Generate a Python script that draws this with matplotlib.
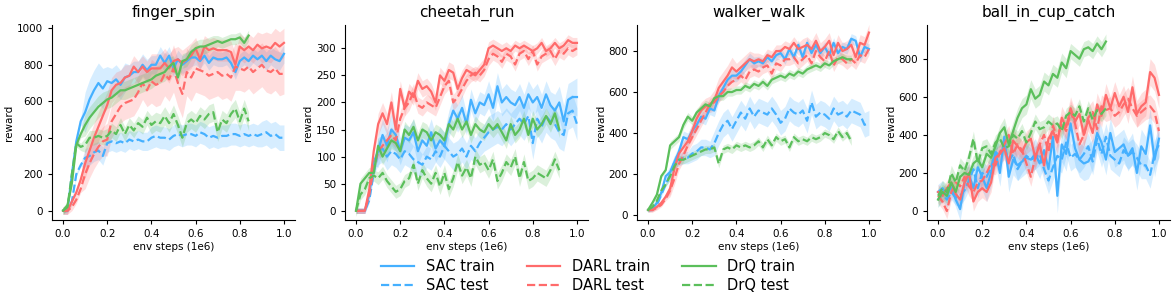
import matplotlib

matplotlib.use("Agg")
import matplotlib.pyplot as plt
import numpy as np

# ---- data (eval every 0.02e6 env steps) ----
TASKS = ["finger_spin", "cheetah_run", "walker_walk", "ball_in_cup_catch"]
METHODS = ["SAC", "DARL", "DrQ"]
COLORS = {"SAC": "#45b0ff", "DARL": "#ff6b6b", "DrQ": "#5bbf5b"}

FS_SAC_TRAIN = [0, 0, 200, 380, 490, 540, 610, 660, 700, 670, 710, 700, 720, 690, 730, 740, 760, 760, 800, 770,
                800, 800, 850, 810, 850, 780, 830, 800, 820, 840, 840, 820, 850, 810, 840, 830, 830, 840, 810, 760,
                820, 840, 820, 850, 830, 850, 820, 850, 830, 820, 860]
FS_SAC_TEST = [0, 0, 50, 200, 250, 290, 300, 320, 330, 300, 370, 380, 370, 380, 370, 390, 380, 390, 380, 380,
               400, 410, 400, 400, 390, 410, 420, 410, 420, 420, 410, 430, 420, 400, 410, 400, 410, 410, 420, 420,
               410, 420, 410, 420, 410, 420, 430, 410, 420, 400, 400]
FS_DARL_TRAIN = [0, 0, 50, 100, 170, 260, 330, 400, 460, 520, 580, 660, 690, 700, 730, 740, 790, 760, 790, 760,
                 780, 780, 780, 810, 780, 820, 830, 810, 830, 850, 890, 830, 900, 880, 890, 880, 880, 880, 870, 800,
                 900, 880, 900, 880, 910, 890, 900, 890, 920, 900, 920]
FS_DARL_TEST = [0, 0, 20, 60, 120, 200, 260, 310, 350, 380, 390, 490, 530, 570, 590, 600, 610, 650, 700, 660,
                710, 690, 700, 750, 720, 780, 700, 640, 760, 730, 780, 770, 760, 740, 750, 760, 740, 750, 730, 790,
                780, 770, 790, 760, 780, 800, 770, 760, 780, 750, 750]
FS_DRQ_TRAIN = [0, 30, 150, 360, 420, 470, 510, 540, 570, 590, 610, 620, 640, 660, 660, 670, 680, 690, 700, 710,
                720, 740, 750, 760, 790, 810, 730, 820, 830, 870, 890, 900, 900, 910, 920, 930, 920, 930, 940, 940,
                950, 920, 960]
FS_DRQ_TEST = [0, 20, 200, 370, 350, 360, 400, 400, 410, 400, 410, 440, 420, 470, 420, 470, 440, 480, 460, 510,
               470, 490, 480, 520, 480, 530, 470, 400, 480, 500, 480, 520, 500, 530, 540, 430, 500, 480, 530, 560,
               490, 560, 490]

CR_SAC_TRAIN = [0, 0, 0, 30, 90, 110, 140, 120, 150, 140, 110, 135, 130, 145, 110, 130, 120, 145, 115, 130,
                120, 160, 185, 170, 190, 160, 205, 180, 200, 195, 215, 190, 230, 200, 210, 200, 195, 210, 190, 215,
                200, 210, 190, 215, 195, 185, 200, 165, 205, 210, 210]
CR_SAC_TEST = [0, 0, 0, 20, 70, 110, 115, 100, 110, 105, 95, 110, 105, 95, 90, 85, 100, 95, 110, 100,
               120, 110, 100, 105, 115, 100, 120, 110, 125, 135, 145, 150, 155, 150, 160, 150, 160, 170, 160, 175,
               125, 170, 155, 175, 165, 160, 145, 140, 180, 185, 160]
CR_DARL_TRAIN = [0, 0, 0, 40, 110, 160, 180, 160, 200, 150, 225, 190, 220, 210, 240, 225, 230, 220, 200, 250,
                 240, 260, 255, 225, 245, 260, 255, 250, 260, 270, 300, 305, 300, 295, 300, 295, 305, 300, 305, 300,
                 295, 300, 310, 295, 300, 310, 300, 305, 315, 310, 310]
CR_DARL_TEST = [0, 0, 0, 30, 80, 110, 120, 130, 140, 130, 170, 190, 200, 220, 195, 190, 200, 195, 190, 210,
                230, 240, 200, 210, 225, 240, 250, 255, 250, 260, 280, 290, 285, 275, 290, 285, 270, 290, 295, 280,
                295, 270, 285, 290, 295, 280, 295, 290, 300, 295, 300]
CR_DRQ_TRAIN = [0, 50, 60, 70, 70, 120, 100, 115, 130, 125, 110, 150, 140, 155, 130, 150, 145, 130, 145, 140,
                130, 160, 150, 170, 150, 165, 140, 160, 150, 145, 160, 150, 160, 145, 130, 160, 140, 150, 170, 140,
                170, 150, 160, 175, 160, 180, 150]
CR_DRQ_TEST = [0, 30, 40, 60, 65, 60, 70, 55, 45, 35, 40, 55, 60, 85, 50, 75, 60, 50, 70, 45,
               70, 40, 60, 90, 65, 80, 60, 100, 85, 90, 75, 95, 55, 70, 90, 80, 100, 60, 90, 55,
               60, 70, 65, 60, 75, 95, 75]

WW_SAC_TRAIN = [25, 30, 60, 110, 190, 210, 260, 310, 380, 370, 410, 440, 480, 470, 520, 510, 580, 620, 660, 680,
                680, 700, 730, 760, 740, 750, 740, 770, 750, 780, 790, 760, 810, 770, 830, 770, 840, 790, 830, 790,
                820, 780, 840, 790, 820, 810, 860, 850, 770, 820, 810]
WW_SAC_TEST = [25, 30, 50, 100, 150, 200, 260, 270, 280, 280, 300, 310, 330, 330, 320, 350, 400, 440, 460, 420,
               460, 500, 470, 520, 480, 510, 500, 490, 520, 490, 450, 470, 520, 500, 490, 510, 460, 550, 480, 500,
               490, 470, 520, 490, 500, 480, 510, 500, 490, 440, 450]
WW_DARL_TRAIN = [25, 25, 40, 60, 90, 130, 230, 300, 330, 360, 410, 470, 510, 530, 540, 560, 620, 650, 680, 720,
                 700, 720, 740, 760, 750, 760, 750, 780, 770, 800, 800, 820, 810, 840, 810, 820, 830, 810, 850, 800,
                 820, 850, 780, 840, 800, 810, 830, 770, 840, 830, 890]
WW_DARL_TEST = [25, 25, 35, 50, 80, 120, 180, 250, 290, 340, 380, 420, 460, 500, 540, 550, 580, 600, 630, 650,
                660, 680, 660, 700, 710, 700, 720, 730, 690, 740, 730, 760, 760, 770, 740, 760, 780, 740, 800, 770,
                750, 800, 730, 770, 760, 740, 760, 740, 780, 770, 810]
WW_DRQ_TRAIN = [25, 60, 100, 190, 220, 340, 360, 380, 440, 480, 460, 500, 520, 540, 530, 570, 580, 580, 600, 600,
                610, 610, 630, 620, 640, 630, 650, 630, 660, 670, 680, 670, 690, 680, 700, 690, 710, 720, 730, 720,
                740, 730, 750, 760, 770, 760, 760]
WW_DRQ_TEST = [25, 40, 70, 120, 150, 190, 240, 270, 270, 280, 290, 300, 310, 320, 320, 330, 250, 320, 330, 320,
               340, 330, 340, 330, 340, 360, 330, 370, 340, 380, 360, 370, 330, 380, 360, 370, 360, 380, 370, 380,
               400, 390, 370, 410, 380, 400, 360]

BC_SAC_TRAIN = [100, 120, 80, 130, 60, 10, 150, 190, 120, 230, 180, 120, 200, 310, 200, 390, 180, 270, 240, 260,
                280, 270, 300, 250, 320, 220, 390, 80, 350, 300, 460, 330, 270, 250, 260, 300, 410, 360, 270, 410,
                310, 330, 350, 290, 330, 200, 340, 300, 450, 270, 380]
BC_SAC_TEST = [60, 90, 60, 100, 70, 80, 110, 160, 220, 120, 200, 180, 230, 310, 290, 340, 260, 300, 220, 260,
               290, 270, 280, 300, 220, 160, 230, 290, 270, 360, 280, 300, 270, 300, 340, 260, 380, 300, 390, 290,
               270, 250, 320, 290, 310, 280, 240, 240, 190, 300, 350]
BC_DARL_TRAIN = [100, 80, 120, 150, 90, 60, 150, 200, 50, 100, 120, 100, 150, 280, 300, 330, 250, 370, 340, 310,
                 360, 380, 280, 350, 240, 380, 420, 360, 490, 440, 540, 470, 510, 400, 480, 410, 560, 500, 610, 540,
                 620, 550, 600, 520, 650, 510, 550, 570, 730, 700, 610]
BC_DARL_TEST = [80, 50, 0, 100, 150, 130, 180, 130, 100, 150, 160, 200, 250, 240, 310, 350, 400, 300, 350, 320,
                250, 180, 280, 350, 400, 310, 450, 380, 460, 420, 520, 460, 350, 400, 490, 520, 430, 550, 530, 540,
                500, 520, 560, 590, 540, 500, 520, 540, 550, 520, 420]
BC_DRQ_TRAIN = [60, 100, 80, 150, 100, 180, 200, 190, 250, 270, 230, 300, 280, 340, 410, 440, 350, 420, 490, 540,
                560, 640, 590, 610, 680, 660, 720, 700, 780, 750, 840, 820, 800, 850, 860, 840, 880, 850, 890]
BC_DRQ_TEST = [80, 120, 100, 200, 150, 240, 210, 280, 380, 250, 330, 340, 300, 360, 380, 330, 340, 400, 380, 420,
               360, 410, 470, 430, 440, 470, 450, 460, 420, 500, 520, 500, 550, 470, 540, 480, 530, 510, 540]

# band half-widths per 0.1e6 block (seed spread): (train, test)
SPREAD = {
    "finger_spin": {"SAC": ([20, 110, 80, 60, 50, 50, 40, 40, 40, 50, 50], [10, 50, 50, 50, 60, 60, 60, 60, 60, 70, 70]),
                    "DARL": ([20, 80, 70, 60, 80, 70, 60, 60, 70, 80, 80], [20, 80, 90, 90, 120, 130, 130, 130, 120, 120, 110]),
                    "DrQ": ([20, 60, 50, 50, 50, 40, 40, 30, 30, 30, 30], [20, 40, 40, 40, 50, 50, 50, 50, 50, 50, 50])},
    "cheetah_run": {"SAC": ([5, 30, 25, 25, 25, 20, 25, 25, 25, 30, 35], [5, 25, 25, 20, 25, 25, 30, 30, 30, 30, 30]),
                    "DARL": ([5, 20, 15, 15, 15, 12, 12, 10, 10, 10, 10], [5, 15, 15, 15, 15, 12, 12, 12, 12, 12, 12]),
                    "DrQ": ([10, 15, 15, 15, 15, 15, 15, 15, 15, 15, 15], [10, 12, 12, 15, 15, 15, 15, 15, 15, 15, 15])},
    "walker_walk": {"SAC": ([10, 30, 30, 30, 30, 25, 25, 25, 25, 25, 25], [10, 30, 40, 60, 60, 60, 60, 60, 60, 60, 60]),
                    "DARL": ([10, 30, 40, 50, 40, 30, 30, 40, 40, 40, 40], [10, 30, 30, 30, 30, 30, 30, 30, 30, 30, 30]),
                    "DrQ": ([10, 20, 20, 20, 20, 20, 20, 20, 20, 20, 20], [10, 20, 20, 20, 20, 20, 20, 20, 20, 20, 20])},
    "ball_in_cup_catch": {"SAC": ([40, 60, 70, 80, 80, 90, 90, 80, 80, 90, 90], [40, 50, 60, 60, 60, 70, 70, 70, 70, 70, 70]),
                          "DARL": ([40, 50, 50, 60, 60, 60, 60, 60, 60, 70, 70], [40, 50, 50, 50, 50, 50, 60, 60, 60, 60, 60]),
                          "DrQ": ([40, 40, 40, 50, 50, 50, 40, 40, 40, 40, 40], [40, 40, 40, 40, 40, 40, 40, 40, 40, 40, 40])},
}

CURVES = {
    "finger_spin": {"SAC": (FS_SAC_TRAIN, FS_SAC_TEST), "DARL": (FS_DARL_TRAIN, FS_DARL_TEST), "DrQ": (FS_DRQ_TRAIN, FS_DRQ_TEST)},
    "cheetah_run": {"SAC": (CR_SAC_TRAIN, CR_SAC_TEST), "DARL": (CR_DARL_TRAIN, CR_DARL_TEST), "DrQ": (CR_DRQ_TRAIN, CR_DRQ_TEST)},
    "walker_walk": {"SAC": (WW_SAC_TRAIN, WW_SAC_TEST), "DARL": (WW_DARL_TRAIN, WW_DARL_TEST), "DrQ": (WW_DRQ_TRAIN, WW_DRQ_TEST)},
    "ball_in_cup_catch": {"SAC": (BC_SAC_TRAIN, BC_SAC_TEST), "DARL": (BC_DARL_TRAIN, BC_DARL_TEST), "DrQ": (BC_DRQ_TRAIN, BC_DRQ_TEST)},
}

YLIMS = {"finger_spin": (-51, 1018), "cheetah_run": (-17, 343), "walker_walk": (-24, 927), "ball_in_cup_catch": (-47, 977)}
YTICKS = {"finger_spin": np.arange(0, 1001, 200), "cheetah_run": np.arange(0, 301, 50),
          "walker_walk": np.arange(0, 801, 200), "ball_in_cup_catch": np.arange(0, 801, 200)}
STEP = 0.02


def band(hw, n):
    block = np.minimum((np.arange(n) * STEP / 0.1 + 1e-9).astype(int), len(hw) - 1)
    return np.array(hw, dtype=float)[block]


def main():
    fig = plt.figure(figsize=(11.76, 2.92), dpi=100)
    lefts = [52, 345, 637, 927]
    handles = []
    for i, task in enumerate(TASKS):
        ax = fig.add_axes([lefts[i] / 1176, 72 / 292, 243 / 1176, 195 / 292])
        for m in METHODS:
            c = COLORS[m]
            train, test = CURVES[task][m]
            hw_tr, hw_te = SPREAD[task][m]
            for vals, hw, ls, kind in ((train, hw_tr, "-", "train"), (test, hw_te, "--", "test")):
                y = np.array(vals, dtype=float)
                x = np.arange(len(y)) * STEP
                b = band(hw, len(y))
                ax.fill_between(x, y - b, y + b, color=c, alpha=0.22, lw=0)
                (ln,) = ax.plot(x, y, ls, color=c, lw=1.6, label=f"{m} {kind}")
                if i == 0:
                    handles.append(ln)
        ax.set_title(task, fontsize=11)
        ax.set_xlim(-0.05, 1.05)
        ax.set_ylim(*YLIMS[task])
        ax.set_xticks(np.arange(0, 1.01, 0.2))
        ax.set_yticks(YTICKS[task])
        ax.tick_params(labelsize=7.5, length=3)
        ax.set_xlabel("env steps (1e6)", fontsize=7.5, labelpad=2)
        ax.set_ylabel("reward", fontsize=7.5, labelpad=2)
        ax.spines["top"].set_visible(False)
        ax.spines["right"].set_visible(False)
    fig.legend(handles=handles, loc="lower center", bbox_to_anchor=(0.5, -0.05), ncol=3,
               frameon=False, fontsize=10.5, handlelength=2.3, columnspacing=2.2, labelspacing=0.3)
    fig.savefig("out.png", dpi=100)
    plt.close(fig)


if __name__ == "__main__":
    main()
